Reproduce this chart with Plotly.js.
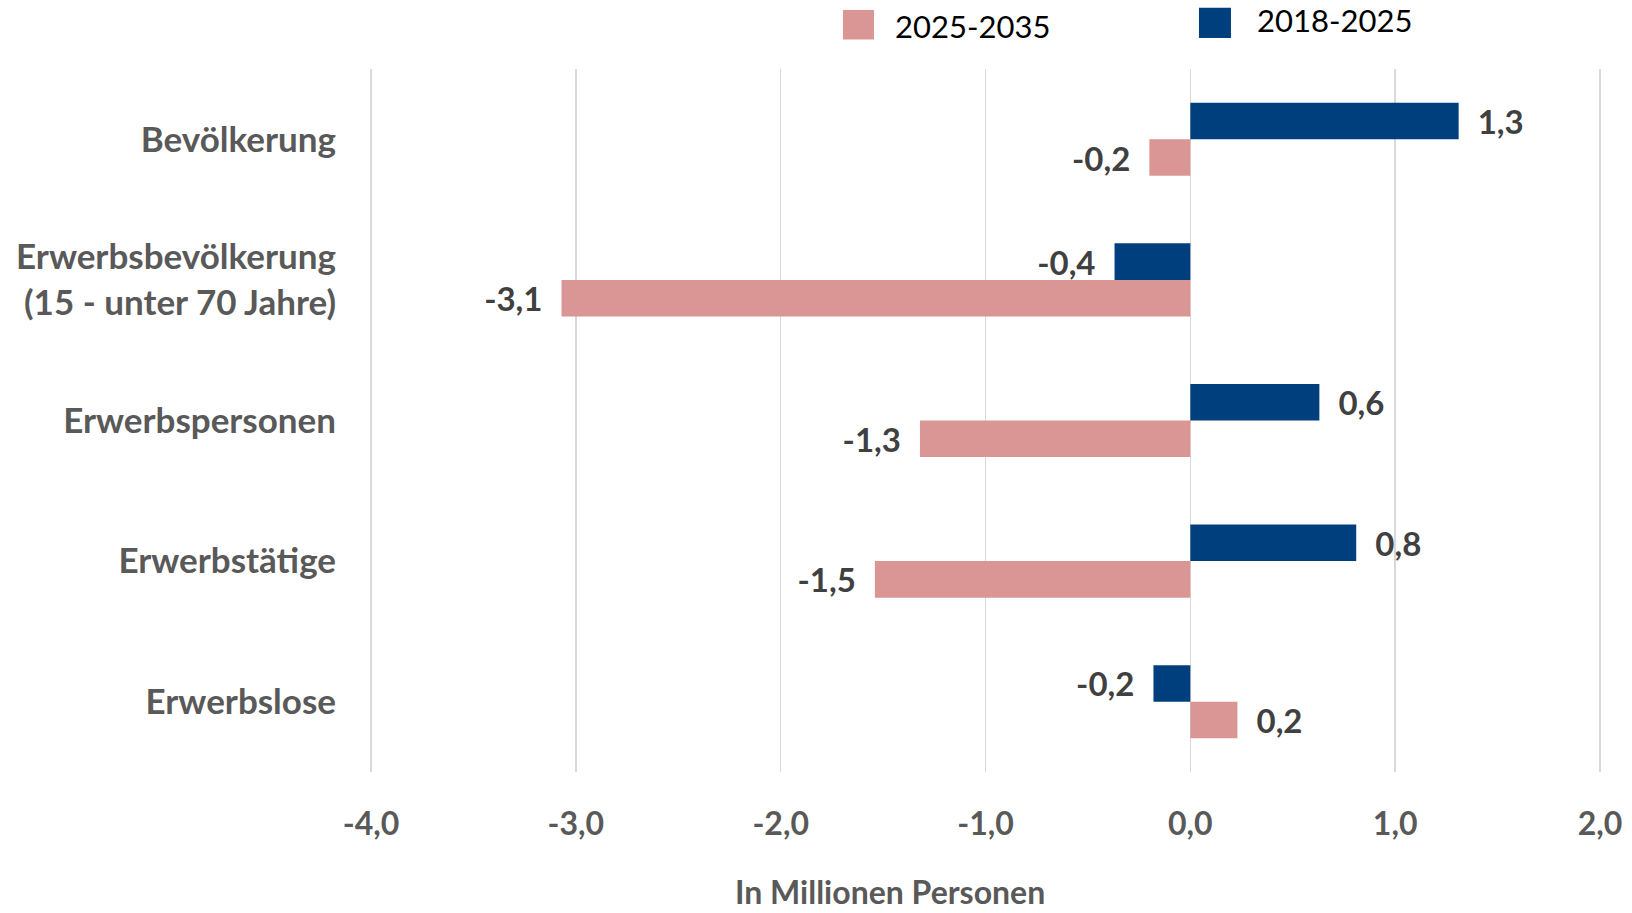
<!DOCTYPE html>
<html>
<head>
<meta charset="utf-8">
<script src="https://cdn.plot.ly/plotly-3.0.1.min.js"></script>
<style>
  html, body { margin: 0; padding: 0; background: #ffffff; }
  #chart { width: 1632px; height: 913px; }
</style>
</head>
<body>
<div id="chart"></div>
<script>
// ---- data ----
const categories = [
  'Bevölkerung',
  'Erwerbsbevölkerung<br>(15 - unter 70 Jahre)',
  'Erwerbspersonen',
  'Erwerbstätige',
  'Erwerbslose'
];
const seriesNames = ['2025-2035', '2018-2025'];
const values2025_2035 = [-0.20, -3.07, -1.32, -1.54, 0.23];
const values2018_2025 = [1.31, -0.37, 0.63, 0.81, -0.18];
const xTickVals = [-4, -3, -2, -1, 0, 1, 2];
const xTickText = ['-4,0', '-3,0', '-2,0', '-1,0', '0,0', '1,0', '2,0'];
const colors = ['#D99694', '#003F7D'];

// ---- helpers ----
const NB = '\u00A0\u00A0';
function label(v) {
  const s = v.toFixed(1).replace('.', ',');
  return v >= 0 ? NB + s : s + NB;
}

const FONT = 'Lato, "Open Sans", sans-serif';
const labelFont = { family: FONT, size: 33, color: '#404040', weight: 700 };

function barTrace(name, vals, color) {
  return {
    type: 'bar',
    orientation: 'h',
    name: name,
    y: categories,
    x: vals,
    marker: { color: color },
    text: vals.map(label),
    textposition: 'outside',
    textfont: labelFont,
    constraintext: 'none',
    cliponaxis: false,
    hoverinfo: 'x+y+name'
  };
}

const data = [
  barTrace(seriesNames[0], values2025_2035, colors[0]),
  barTrace(seriesNames[1], values2018_2025, colors[1])
];

// legend placement (paper coords)
const legendItems = [
  { x0: 0.3842, x1: 0.4094, y0: 1.042, y1: 1.084, tx: 0.4249, ty: 1.061 },
  { x0: 0.6734, x1: 0.6994, y0: 1.044, y1: 1.087, tx: 0.7189, ty: 1.069 }
];

const shapes = legendItems.map((it, i) => ({
  type: 'rect', xref: 'paper', yref: 'paper',
  x0: it.x0, x1: it.x1, y0: it.y0, y1: it.y1,
  fillcolor: colors[i], line: { width: 0 }
}));

const annotations = legendItems.map((it, i) => ({
  xref: 'paper', yref: 'paper', x: it.tx, y: it.ty,
  xanchor: 'left', yanchor: 'middle', showarrow: false,
  text: seriesNames[i],
  font: { family: FONT, size: 31, color: '#000000' }
}));

annotations.push({
  xref: 'paper', yref: 'paper', x: 0.4224, y: -0.170,
  xanchor: 'center', yanchor: 'middle', showarrow: false,
  text: 'In Millionen Personen',
  font: { family: FONT, size: 32, color: '#595959', weight: 700 }
});

const layout = {
  width: 1632,
  height: 913,
  margin: { l: 370, r: 31, t: 69, b: 141, pad: 0 },
  paper_bgcolor: '#ffffff',
  plot_bgcolor: '#ffffff',
  showlegend: false,
  barmode: 'group',
  bargap: 0.48,
  bargroupgap: 0,
  xaxis: {
    range: [-4.005, 2.005],
    tickvals: xTickVals,
    ticktext: xTickText,
    showgrid: true,
    gridcolor: '#d9d9d9',
    gridwidth: 1.5,
    zeroline: true,
    zerolinecolor: '#d9d9d9',
    zerolinewidth: 1.5,
    showline: false,
    ticks: '',
    ticklabelstandoff: 30,
    tickfont: { family: FONT, size: 32, color: '#595959', weight: 700 },
    fixedrange: true
  },
  yaxis: {
    type: 'category',
    categoryorder: 'array',
    categoryarray: categories.slice().reverse(),
    showgrid: false,
    zeroline: false,
    showline: false,
    ticks: '',
    ticklabelstandoff: 33,
    tickfont: { family: FONT, size: 35, color: '#595959', weight: 700 },
    fixedrange: true
  },
  shapes: shapes,
  annotations: annotations
};

Plotly.newPlot('chart', data, layout, { displayModeBar: false, staticPlot: true });
</script>
</body>
</html>
